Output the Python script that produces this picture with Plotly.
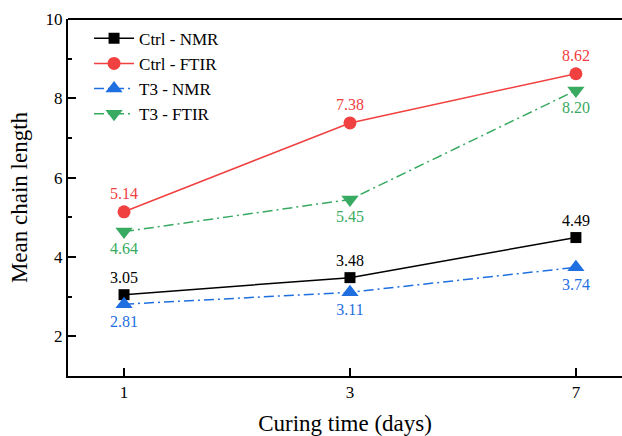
import plotly.graph_objects as go

days = ["1", "3", "7"]
ctrl_nmr = [3.05, 3.48, 4.49]
ctrl_ftir = [5.14, 7.38, 8.62]
t3_nmr = [2.81, 3.11, 3.74]
t3_ftir = [4.64, 5.45, 8.20]

FONT = "Liberation Serif"
x = list(range(len(days)))

series = [
    ("Ctrl - NMR", ctrl_nmr, "#000000", "square", 11, "solid", "top center"),
    ("Ctrl - FTIR", ctrl_ftir, "#f04040", "circle", 13, "solid", "top center"),
    ("T3 - NMR", t3_nmr, "#1f6fe0", "triangle-up", 15, "10px,4px,2px,4px", "bottom center"),
    ("T3 - FTIR", t3_ftir, "#38aa62", "triangle-down", 15, "10px,4px,2px,4px", "bottom center"),
]

fig = go.Figure()
for name, ys, col, sym, sz, dash, tp in series:
    fig.add_trace(go.Scatter(
        x=x, y=ys, name=name, mode="lines+markers+text",
        line=dict(color=col, width=1.5, dash=dash),
        marker=dict(symbol=sym, size=sz, color=col),
        text=[f"{v:.2f}" for v in ys], textposition=tp,
        textfont=dict(family=FONT, size=16, color=col),
    ))

fig.update_layout(
    width=622, height=436,
    margin=dict(l=68, r=0, t=19, b=60),
    plot_bgcolor="white", paper_bgcolor="white",
    font=dict(family=FONT, size=17, color="black"),
    showlegend=True,
    legend=dict(x=0.038, y=0.995, xanchor="left", yanchor="top",
                bgcolor="rgba(0,0,0,0)", font=dict(size=17, family=FONT, color="black"),
                tracegroupgap=0, itemwidth=40),
    xaxis=dict(
        range=[-0.248, 2.204], tickvals=x, ticktext=days,
        showline=True, linecolor="black", linewidth=2,
        ticks="inside", ticklen=8, tickwidth=1.5, tickcolor="black",
        showgrid=False, zeroline=False,
        tickfont=dict(size=17, family=FONT),
        title=dict(text="Curing time (days)", font=dict(size=23, family=FONT), standoff=14),
    ),
    yaxis=dict(
        range=[1, 10], tickvals=[2, 4, 6, 8, 10],
        showline=True, linecolor="black", linewidth=2,
        ticks="inside", ticklen=8, tickwidth=1.5, tickcolor="black",
        minor=dict(tickvals=[3, 5, 7, 9], ticks="inside", ticklen=4, tickwidth=1.5, tickcolor="black"),
        showgrid=False, zeroline=False,
        tickfont=dict(size=17, family=FONT),
        title=dict(text="Mean chain length", font=dict(size=23, family=FONT), standoff=12),
    ),
    shapes=[dict(type="line", xref="paper", yref="paper", x0=0, x1=1, y0=1, y1=1,
                 line=dict(color="black", width=2))],
)

fig.write_html("out.html")
